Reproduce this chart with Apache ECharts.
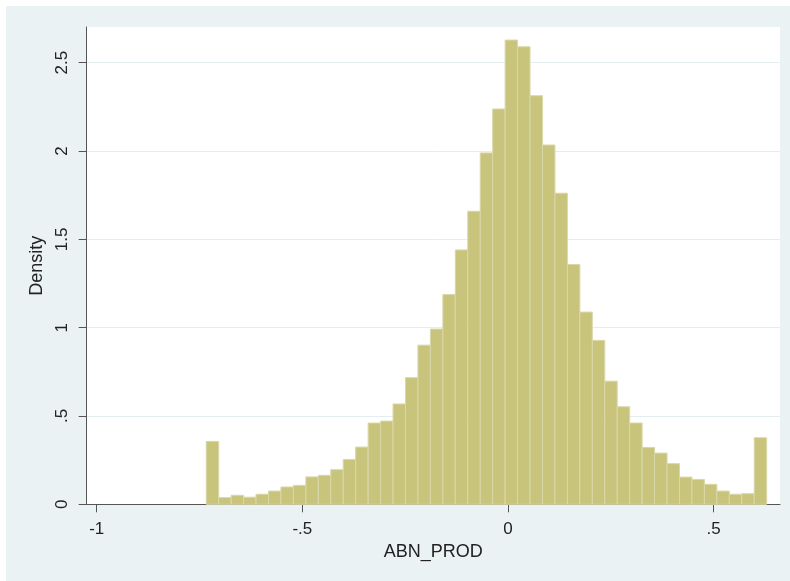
<!DOCTYPE html>
<html>
<head>
<meta charset="utf-8">
<script src="https://cdn.jsdelivr.net/npm/echarts@6/dist/echarts.min.js"></script>
<style>
html,body{margin:0;padding:0;background:#ffffff;}
#c{position:absolute;left:6px;top:6px;width:784px;height:575px;}
</style>
</head>
<body>
<div id="c"></div>
<script>
// Histogram of ABN_PROD (density scale)
const binStart = -0.7337;
const binWidth = 0.03028;
const density = [
  0.356, 0.038, 0.051, 0.040, 0.057, 0.075, 0.098, 0.107, 0.155, 0.164,
  0.196, 0.254, 0.324, 0.460, 0.471, 0.568, 0.717, 0.901, 0.992, 1.188,
  1.440, 1.659, 1.989, 2.238, 2.628, 2.590, 2.313, 2.034, 1.761, 1.357,
  1.088, 0.928, 0.697, 0.552, 0.460, 0.322, 0.290, 0.230, 0.154, 0.141,
  0.113, 0.075, 0.057, 0.060, 0.377
];
const xTicks = [-1, -0.5, 0, 0.5];
const xTickLabels = ['-1', '-.5', '0', '.5'];
const yTicks = [0, 0.5, 1, 1.5, 2, 2.5];
const yTickLabels = ['0', '.5', '1', '1.5', '2', '2.5'];
const xTitle = 'ABN_PROD';
const yTitle = 'Density';

const bins = density.map((d, i) => [binStart + i * binWidth, binStart + (i + 1) * binWidth, d]);

function labelFor(ticks, labels) {
  return function (v) {
    for (let i = 0; i < ticks.length; i++) {
      if (Math.abs(ticks[i] - v) < 1e-6) return labels[i];
    }
    return '';
  };
}

const FONT = 'Liberation Sans';
const chart = echarts.init(document.getElementById('c'), null, {renderer: 'canvas'});
chart.setOption({
  backgroundColor: '#eaf2f3',
  animation: false,
  grid: {
    left: 80.7, right: 10, top: 21, bottom: 76.7,
    show: true, backgroundColor: '#ffffff', borderWidth: 0
  },
  xAxis: {
    type: 'value',
    min: -1.0243, max: 0.6613,
    name: xTitle,
    nameLocation: 'middle',
    nameGap: 36,
    nameTextStyle: {fontFamily: FONT, fontSize: 18, color: '#222'},
    axisLine: {show: true, onZero: false, lineStyle: {color: '#555', width: 1}},
    axisTick: {show: true, customValues: xTicks, length: 8, lineStyle: {color: '#555'}},
    axisLabel: {customValues: xTicks, formatter: labelFor(xTicks, xTickLabels), fontFamily: FONT, fontSize: 17, color: '#222', margin: 17},
    splitLine: {show: false}
  },
  yAxis: {
    type: 'value',
    min: 0, max: 2.702,
    name: yTitle,
    nameLocation: 'middle',
    nameGap: 36,
    nameRotate: 90,
    nameTextStyle: {fontFamily: FONT, fontSize: 18, color: '#222'},
    axisLine: {show: true, onZero: false, lineStyle: {color: '#555', width: 1}},
    axisTick: {show: true, customValues: yTicks, length: 8, lineStyle: {color: '#555'}},
    axisLabel: {customValues: yTicks, formatter: labelFor(yTicks, yTickLabels), rotate: 90, fontFamily: FONT, fontSize: 17, color: '#222', margin: 16},
    splitLine: {show: true, lineStyle: {color: '#e4eef0', width: 1}}
  },
  series: [{
    type: 'custom',
    data: bins,
    encode: {x: [0, 1], y: 2},
    renderItem: function (params, api) {
      const x0 = api.value(0), x1 = api.value(1), h = api.value(2);
      const p0 = api.coord([x0, h]);
      const p1 = api.coord([x1, 0]);
      return {
        type: 'rect',
        shape: {x: p0[0], y: p0[1], width: p1[0] - p0[0], height: p1[1] - p0[1]},
        style: {fill: '#c8c47c', stroke: '#dad7a8', lineWidth: 1}
      };
    }
  }]
});
</script>
</body>
</html>
